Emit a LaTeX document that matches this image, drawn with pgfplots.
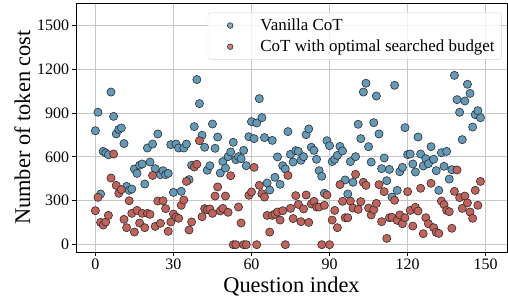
\documentclass[border=0pt]{standalone}
\usepackage{pgfplots}
\pgfplotsset{compat=1.18}
\usepackage{fontspec}
\setmainfont{Liberation Serif}
\definecolor{vblue}{RGB}{98,154,186}
\definecolor{vred}{RGB}{194,98,90}
\definecolor{edgec}{RGB}{45,45,45}
\begin{document}
\begin{tikzpicture}
\begin{axis}[
  scale only axis,
  width=431bp, height=249bp,
  xmin=-7.45, xmax=158.2,
  ymin=-50, ymax=1650,
  xtick={0,30,60,90,120,150},
  ytick={0,300,600,900,1200,1500},
  /pgf/number format/assume math mode=true,
  /pgf/number format/1000 sep={},
  tick label style={font=\fontsize{16}{19}\selectfont},
  label style={font=\fontsize{22.5}{26}\selectfont},
  xlabel={Question index},
  ylabel={Number of token cost},
  grid=major,
  major grid style={draw=black!22, line width=0.7pt},
  tick align=outside,
  major tick length=3.5bp,
  tick style={black, line width=0.7pt},
  xtick pos=bottom, ytick pos=left,
  axis line style={line width=0.7pt},
  legend cell align=left,
  legend style={at={(rel axis cs:0.988,0.961)}, anchor=north east,
    font=\fontsize{17}{19.5}\selectfont,
    draw=black!15, fill=white, fill opacity=0.8, text opacity=1,
    rounded corners=2bp, row sep=4bp, inner xsep=5bp, inner ysep=4bp},
  legend image code/.code={\path (0bp,0bp) (45bp,0bp); \draw[#1, mark size=2.8bp] plot coordinates {(17bp,0bp)};},
]
\addplot[only marks, mark=*, mark size=4.1bp, mark options={fill=vblue, draw=edgec, line width=0.6pt}] coordinates {
(0,778) (1,904) (2,346) (3,637) (4,626) (5,614) (6,1042) (7,876) (8,756) (9,787)
(10,797) (11,690) (12,398) (13,371) (14,380) (15,517) (16,487) (17,542) (18,551) (19,414)
(20,660) (21,564) (22,687) (23,519) (24,756) (25,478) (26,505) (27,478) (28,487) (29,683)
(30,357) (31,687) (32,660) (33,364) (34,660) (35,687) (36,444) (37,542) (38,806) (39,1127)
(40,963) (41,747) (42,665) (43,508) (44,539) (45,824) (46,658) (47,735) (48,489) (49,567)
(50,523) (51,601) (52,633) (53,699) (54,580) (55,601) (56,587) (57,644) (58,539) (59,737)
(60,840) (61,724) (62,831) (63,997) (64,867) (65,731) (66,421) (67,373) (68,712) (69,460)
(70,599) (71,412) (72,539) (73,517) (74,772) (75,617) (76,564) (77,642) (78,637) (79,576)
(80,601) (81,751) (82,790) (83,665) (84,644) (85,583) (86,505) (87,467) (88,351) (89,710)
(90,676) (91,567) (92,583) (93,610) (94,671) (95,640) (96,442) (97,346) (98,567) (99,426)
(100,601) (101,822) (102,724) (103,1042) (104,1102) (105,669) (106,564) (107,833) (108,1015) (109,756)
(110,519) (111,592) (112,437) (113,514) (114,325) (115,1088) (116,371) (117,498) (118,528) (119,799)
(120,615) (121,619) (122,551) (123,496) (124,735) (125,619) (126,537) (127,587) (128,553) (129,669)
(130,583) (131,505) (132,371) (133,628) (134,535) (135,637) (136,448) (137,512) (138,1156) (139,990)
(140,904) (141,717) (142,981) (143,1095) (144,1033) (145,803) (146,888) (147,915) (148,867)
};
\addlegendentry{Vanilla CoT}
\addplot[only marks, mark=*, mark size=4.1bp, mark options={fill=vred, draw=edgec, line width=0.6pt}] coordinates {
(0,232) (1,323) (2,152) (3,134) (4,155) (5,200) (6,455) (7,619) (8,405) (9,351)
(10,376) (11,173) (12,116) (13,300) (14,214) (15,86) (16,234) (17,148) (18,214) (19,116)
(20,214) (21,207) (22,473) (23,125) (24,298) (25,146) (26,300) (27,246) (28,91) (29,155)
(30,209) (31,189) (32,180) (33,269) (34,305) (35,432) (36,100) (37,155) (38,530) (39,549)
(40,710) (41,191) (42,246) (43,239) (44,244) (45,214) (46,332) (47,394) (48,230) (49,248)
(50,332) (51,221) (52,471) (53,0) (54,0) (55,257) (56,148) (57,0) (58,0) (59,337)
(60,360) (61,528) (62,0) (63,405) (64,348) (65,325) (66,200) (67,86) (68,200) (69,209)
(70,223) (71,168) (72,232) (73,0) (74,473) (75,248) (76,178) (77,335) (78,275) (79,157)
(80,244) (81,339) (82,152) (83,278) (84,296) (85,257) (86,257) (87,0) (88,269) (89,339)
(90,0) (91,168) (92,234) (93,116) (94,410) (95,296) (96,184) (97,184) (98,298) (99,250)
(100,480) (101,241) (102,294) (103,426) (104,405) (105,250) (106,203) (107,239) (108,282) (109,410)
(110,157) (111,362) (112,43) (113,184) (114,187) (115,303) (116,166) (117,203) (118,143) (119,184)
(120,362) (121,234) (122,127) (123,255) (124,230) (125,385) (126,75) (127,184) (128,143) (129,419)
(130,116) (131,84) (132,77) (133,298) (134,273) (135,234) (136,225) (137,112) (138,364) (139,510)
(140,321) (141,248) (142,332) (143,285) (144,223) (145,180) (146,371) (147,269) (148,432)
};
\addlegendentry{CoT with optimal searched budget}
\end{axis}
\pgfresetboundingbox
\useasboundingbox ([shift={(-76bp,-48bp)}]current axis.south west) rectangle ([shift={(1bp,3bp)}]current axis.north east);
\end{tikzpicture}
\end{document}
